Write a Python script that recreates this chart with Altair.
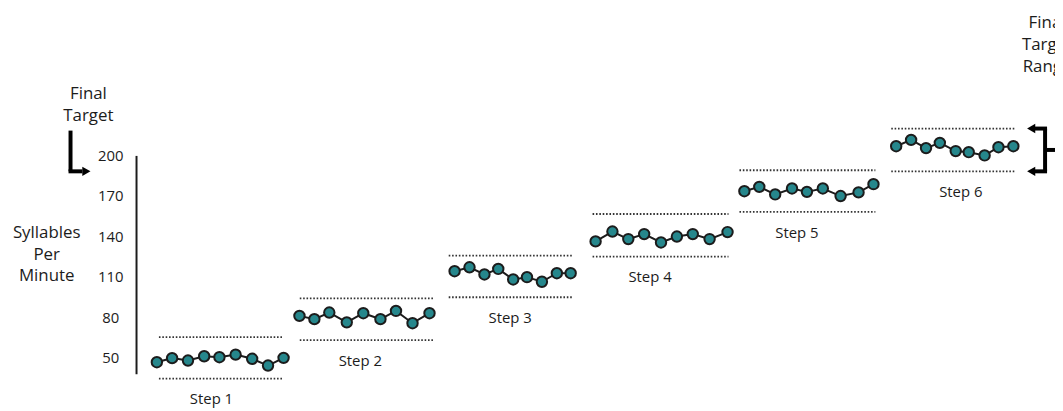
import altair as alt
import pandas as pd

# ---- data ----
steps = ["Step 1", "Step 2", "Step 3", "Step 4", "Step 5", "Step 6"]

# position of each session along the horizontal (session units)
session_x = [
    [1.0, 1.96, 2.96, 3.98, 4.94, 5.96, 7.0, 8.0, 8.98],
    [9.98, 10.92, 11.86, 12.96, 14.0, 15.08, 16.06, 17.1, 18.17],
    [19.75, 20.69, 21.63, 22.5, 23.44, 24.31, 25.25, 26.19, 27.06],
    [28.63, 29.69, 30.69, 31.69, 32.75, 33.75, 34.75, 35.81, 36.94],
    [38.0, 38.94, 39.94, 41.0, 41.94, 42.94, 44.06, 45.19, 46.13],
    [47.56, 48.5, 49.44, 50.31, 51.31, 52.13, 53.13, 54.0, 54.94],
]

# syllables per minute
spm = [
    [46.8, 49.8, 48.0, 51.2, 50.5, 52.4, 49.3, 44.3, 50.0],
    [81.1, 78.7, 83.6, 76.3, 83.1, 78.7, 84.8, 75.7, 83.1],
    [114.2, 117.1, 111.8, 115.9, 108.1, 109.8, 106.4, 112.7, 112.7],
    [136.3, 143.6, 138.0, 141.7, 135.5, 139.9, 141.7, 138.0, 143.2],
    [173.5, 176.7, 171.1, 175.5, 173.0, 175.5, 169.9, 172.6, 178.7],
    [206.8, 211.5, 205.4, 209.3, 203.2, 202.4, 200.0, 206.1, 206.8],
]

# target range of each step
band_upper = [65.4, 94.1, 125.7, 156.6, 189.0, 219.9]
band_lower = [34.6, 63.2, 94.9, 125.0, 158.1, 188.2]
band_x1 = [1.13, 10.0, 19.38, 28.44, 37.69, 47.25]
band_x2 = [8.94, 18.44, 27.19, 37.0, 46.25, 55.06]
label_x = [4.44, 13.81, 23.25, 32.06, 41.31, 51.63]

y_ticks = [50, 80, 110, 140, 170, 200]
final_target_upper = band_upper[-1]
final_target_lower = band_lower[-1]

# ---- tables ----
pts = pd.DataFrame(
    [
        {"step": s, "session": x, "spm": v}
        for s, xs, vs in zip(steps, session_x, spm)
        for x, v in zip(xs, vs)
    ]
)
bands = pd.DataFrame(
    {
        "step": steps,
        "upper": band_upper,
        "lower": band_lower,
        "x1": band_x1,
        "x2": band_x2,
        "lx": label_x,
    }
)
band_long = pd.concat(
    [
        bands[["step", "x1", "x2"]].assign(level=bands["upper"]),
        bands[["step", "x1", "x2"]].assign(level=bands["lower"]),
    ]
)

FONT = "Open Sans"
INK = "#1c1c1c"
TEAL = "#26878c"

yscale = alt.Scale(domain=[38.235, 200.0], nice=False, zero=False)
xscale = alt.Scale(domain=[-0.3125, 57.5625], nice=False, zero=False)
yax = alt.Axis(
    values=y_ticks,
    title=None,
    grid=False,
    ticks=False,
    tickSize=0,
    domainColor=INK,
    domainWidth=2,
    labelFont=FONT,
    labelFontSize=15,
    labelColor=INK,
    labelAlign="center",
    labelBaseline="middle",
    labelPadding=26,
)

dotted = alt.Chart(band_long).mark_rule(
    color="#333333", strokeWidth=1.8, strokeDash=[1.6, 1.8]
).encode(
    x=alt.X("x1:Q", scale=xscale, axis=None),
    x2="x2:Q",
    y=alt.Y("level:Q", scale=yscale, axis=yax),
)

lines = alt.Chart(pts).mark_line(color=INK, strokeWidth=2).encode(
    x=alt.X("session:Q", scale=xscale, axis=None),
    y=alt.Y("spm:Q", scale=yscale, axis=yax),
    detail="step:N",
)

points = alt.Chart(pts).mark_point(
    filled=True, fill=TEAL, stroke=INK, strokeWidth=2, size=110, opacity=1
).encode(
    x=alt.X("session:Q", scale=xscale, axis=None),
    y=alt.Y("spm:Q", scale=yscale, axis=yax),
)

step_labels = alt.Chart(bands).mark_text(
    font=FONT, fontSize=15, color=INK, baseline="middle", align="center", dy=21
).encode(
    x=alt.X("lx:Q", scale=xscale, axis=None),
    y=alt.Y("lower:Q", scale=yscale, axis=yax),
    text="step:N",
)

# ---- annotations ----
ann = pd.DataFrame({"lo": [final_target_lower], "hi": [final_target_upper]})
base_ann = alt.Chart(ann)

def side_text(label, x, y):
    return base_ann.mark_text(
        font=FONT, fontSize=17, color=INK, align="center", baseline="middle",
        lineBreak="\n", lineHeight=22,
    ).encode(x=alt.value(x), y=alt.value(y), text=alt.value(label))

ylab = side_text("Syllables\nPer\nMinute", -90, 78)
ft_text = side_text("Final\nTarget", -48, -62)
ftr_text = side_text("Final\nTarget\nRange", 918, -133)

# left arrow (Final Target)
l_vert = base_ann.mark_rule(color="black", strokeWidth=4).encode(
    x=alt.value(-66),
    y=alt.Y("lo:Q", scale=yscale, axis=yax),
    y2=alt.value(-25),
)
l_horiz = base_ann.mark_rule(color="black", strokeWidth=4).encode(
    x=alt.value(-68), x2=alt.value(-54),
    y=alt.Y("lo:Q", scale=yscale, axis=yax),
)
l_head = base_ann.mark_point(
    shape="triangle-right", filled=True, color="black", size=90, opacity=1
).encode(x=alt.value(-50), y=alt.Y("lo:Q", scale=yscale, axis=yax))

# right bracket (Final Target Range)
r_top = base_ann.mark_rule(color="black", strokeWidth=4).encode(
    x=alt.value(905), x2=alt.value(918), y=alt.Y("hi:Q", scale=yscale, axis=yax)
)
r_bot = base_ann.mark_rule(color="black", strokeWidth=4).encode(
    x=alt.value(905), x2=alt.value(918), y=alt.Y("lo:Q", scale=yscale, axis=yax)
)
r_vert = base_ann.mark_rule(color="black", strokeWidth=4).encode(
    x=alt.value(916), y=alt.Y("hi:Q", scale=yscale, axis=yax), y2="lo:Q"
)
r_mid = base_ann.transform_calculate(mid="(datum.hi + datum.lo) / 2").mark_rule(
    color="black", strokeWidth=4
).encode(
    x=alt.value(916), x2=alt.value(930),
    y=alt.Y("mid:Q", scale=yscale, axis=yax),
)
r_heads = base_ann.transform_fold(["hi", "lo"], as_=["k", "v"]).mark_point(
    shape="triangle-left", filled=True, color="black", size=90, opacity=1
).encode(x=alt.value(902), y=alt.Y("v:Q", scale=yscale, axis=yax))

chart = alt.layer(
    dotted, lines, points, step_labels,
    ylab, ft_text, ftr_text,
    l_vert, l_horiz, l_head, r_top, r_bot, r_vert, r_mid, r_heads,
).properties(
    width=926,
    height=220,
    autosize=alt.AutoSizeParams(type="none"),
    padding={"left": 129, "top": 147, "right": 0, "bottom": 36},
    background="white",
).configure_view(stroke=None)

chart.save("out.html", embed_options={"renderer": "svg", "actions": False})
